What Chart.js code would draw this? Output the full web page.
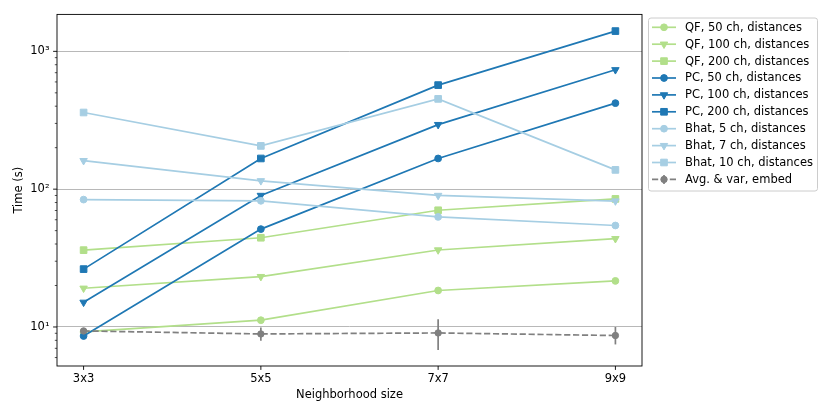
<!DOCTYPE html>
<html>
<head>
<meta charset="utf-8">
<script src="https://cdn.jsdelivr.net/npm/chart.js@4.4.0/dist/chart.umd.min.js"></script>
<style>
  html, body { margin: 0; padding: 0; background: #fff; }
  #wrap { width: 830px; height: 415px; position: relative; }
</style>
</head>
<body>
<div id="wrap"><canvas id="timeChart"></canvas></div>
<script>
// neighborhood sizes on the x axis
const categories = ['3x3', '5x5', '7x7', '9x9'];

// time in seconds
const qf50 = [9.2, 11.2, 18.4, 21.6];
const qf100 = [19.1, 23.2, 36.2, 43.7];
const qf200 = [36.1, 44.4, 70.3, 85];
const pc50 = [8.6, 51.3, 167, 421];
const pc100 = [15.1, 90, 294, 735];
const pc200 = [26.3, 167, 569, 1403];
const bhat5 = [84, 82.3, 62.9, 54.5];
const bhat7 = [161, 115, 90, 82];
const bhat10 = [360, 206, 452, 138];
const avgEmbed = [9.36, 8.9, 9.05, 8.67];
const avgLow = [9.1, 7.93, 6.8, 7.47];
const avgHigh = [9.6, 9.9, 11.36, 10.0];

const yMajorTicks = [10, 100, 1000];
const yTickLabels = ['10¹', '10²', '10³'];

const lightGreen = '#b2df8a';
const darkBlue = '#1f78b4';
const lightBlue = '#a6cee3';
const grey = '#808080';
const font = { family: 'DejaVu Sans', size: 11.5 };

const radius = { circle: 3.4, triangle: 4.3, rect: 4.7 };

const series = [
  { label: 'QF, 50 ch, distances', values: qf50, color: lightGreen, marker: 'circle' },
  { label: 'QF, 100 ch, distances', values: qf100, color: lightGreen, marker: 'triangle' },
  { label: 'QF, 200 ch, distances', values: qf200, color: lightGreen, marker: 'rect' },
  { label: 'PC, 50 ch, distances', values: pc50, color: darkBlue, marker: 'circle' },
  { label: 'PC, 100 ch, distances', values: pc100, color: darkBlue, marker: 'triangle' },
  { label: 'PC, 200 ch, distances', values: pc200, color: darkBlue, marker: 'rect' },
  { label: 'Bhat, 5 ch, distances', values: bhat5, color: lightBlue, marker: 'circle' },
  { label: 'Bhat, 7 ch, distances', values: bhat7, color: lightBlue, marker: 'triangle' },
  { label: 'Bhat, 10 ch, distances', values: bhat10, color: lightBlue, marker: 'rect' },
  { label: 'Avg. & var, embed', values: avgEmbed, color: grey, marker: 'circle', dash: [6.2, 2.7], r: 3.2 }
];
const avgIndex = series.length - 1;

const datasets = series.map((s, i) => ({
  label: s.label,
  data: s.values.map((v, j) => ({ x: j, y: v })),
  borderColor: s.color,
  backgroundColor: s.color,
  borderWidth: 1.7,
  borderDash: s.dash || [],
  pointStyle: s.marker,
  pointRadius: s.r || radius[s.marker],
  pointHoverRadius: s.r || radius[s.marker],
  pointRotation: s.marker === 'triangle' ? 180 : 0,
  pointBorderWidth: 1,
  tension: 0,
  order: series.length - i   // later series on top, like matplotlib
}));

// vertical variance bars under the grey markers
const errorBars = {
  id: 'errorBars',
  beforeDatasetDraw(chart, args) {
    if (args.index !== avgIndex) return;
    const { ctx, scales: { x, y } } = chart;
    ctx.save();
    ctx.strokeStyle = grey;
    ctx.lineWidth = 1.7;
    avgEmbed.forEach((v, j) => {
      const px = x.getPixelForValue(j);
      ctx.beginPath();
      ctx.moveTo(px, y.getPixelForValue(avgLow[j]));
      ctx.lineTo(px, y.getPixelForValue(avgHigh[j]));
      ctx.stroke();
    });
    ctx.restore();
  }
};

// spines and tick marks
const frame = {
  id: 'frame',
  afterDraw(chart) {
    const { ctx, chartArea: a, scales: { x, y } } = chart;
    ctx.save();
    ctx.strokeStyle = '#000';
    ctx.lineWidth = 0.9;
    ctx.strokeRect(a.left, a.top, a.right - a.left, a.bottom - a.top);
    ctx.beginPath();
    categories.forEach((c, j) => {
      const px = x.getPixelForValue(j);
      ctx.moveTo(px, a.bottom);
      ctx.lineTo(px, a.bottom + 3.9);
    });
    yMajorTicks.forEach(v => {
      const py = y.getPixelForValue(v);
      ctx.moveTo(a.left, py);
      ctx.lineTo(a.left - 3.9, py);
    });
    ctx.stroke();
    ctx.lineWidth = 0.67;
    ctx.beginPath();
    for (let d = 1; d <= 1000; d *= 10) {
      for (let k = 2; k <= 9; k++) {
        const v = k * d;
        if (v < y.min || v > y.max) continue;
        const py = y.getPixelForValue(v);
        ctx.moveTo(a.left, py);
        ctx.lineTo(a.left - 2.2, py);
      }
    }
    ctx.stroke();
    ctx.restore();
  }
};

// matplotlib style legend box, upper right outside the axes
const boxLegend = {
  id: 'boxLegend',
  afterDraw(chart) {
    const ctx = chart.ctx;
    const x0 = 648.5, y0 = 18, w = 169, h = 173, rr = 2.5;
    ctx.save();
    ctx.beginPath();
    ctx.moveTo(x0 + rr, y0);
    ctx.arcTo(x0 + w, y0, x0 + w, y0 + h, rr);
    ctx.arcTo(x0 + w, y0 + h, x0, y0 + h, rr);
    ctx.arcTo(x0, y0 + h, x0, y0, rr);
    ctx.arcTo(x0, y0, x0 + w, y0, rr);
    ctx.closePath();
    ctx.fillStyle = 'rgba(255,255,255,0.8)';
    ctx.fill();
    ctx.strokeStyle = '#cccccc';
    ctx.lineWidth = 1;
    ctx.stroke();

    series.forEach((s, i) => {
      const ly = 27.3 + i * 16.9;
      ctx.strokeStyle = s.color;
      ctx.fillStyle = s.color;
      ctx.lineWidth = 1.7;
      ctx.setLineDash(s.dash || []);
      ctx.beginPath();
      ctx.moveTo(652, ly);
      ctx.lineTo(676, ly);
      ctx.stroke();
      ctx.setLineDash([]);
      if (i === avgIndex) {
        ctx.beginPath();
        ctx.moveTo(664, ly - 4.5);
        ctx.lineTo(664, ly + 4.5);
        ctx.stroke();
      }
      ctx.lineWidth = 1;
      Chart.helpers.drawPoint(ctx, {
        pointStyle: s.marker,
        radius: s.r || radius[s.marker],
        rotation: s.marker === 'triangle' ? 180 : 0,
        borderWidth: 1
      }, 664, ly);
      ctx.fillStyle = '#000';
      ctx.font = '11.5px "DejaVu Sans"';
      ctx.textBaseline = 'middle';
      ctx.textAlign = 'left';
      ctx.fillText(s.label, 685, ly + 0.5);
    });
    ctx.restore();
  }
};

const ctx = document.getElementById('timeChart').getContext('2d');
const timeChart = new Chart(ctx, {
  type: 'line',
  data: { datasets: datasets },
  options: {
    responsive: true,
    maintainAspectRatio: false,
    animation: false,
    events: [],
    layout: { padding: { left: 0, right: 188, top: 12, bottom: 0 } },
    plugins: {
      legend: { display: false },
      tooltip: { enabled: false }
    },
    scales: {
      x: {
        type: 'linear',
        min: -0.15,
        max: 3.15,
        afterBuildTicks: scale => { scale.ticks = categories.map((c, j) => ({ value: j })); },
        afterFit: scale => { scale.height = 49; },
        ticks: {
          callback: v => categories[v],
          font: font,
          color: '#000',
          padding: 6.4,
          maxRotation: 0,
          autoSkip: false
        },
        grid: { display: false, drawTicks: false },
        border: { display: false },
        title: {
          display: true,
          text: 'Neighborhood size',
          font: font,
          color: '#000',
          padding: { top: 0, bottom: 13.1 }
        }
      },
      y: {
        type: 'logarithmic',
        min: 5.21,
        max: 1854,
        afterBuildTicks: scale => { scale.ticks = yMajorTicks.map(v => ({ value: v })); },
        afterFit: scale => { scale.width = 57; },
        ticks: {
          callback: v => yTickLabels[yMajorTicks.indexOf(v)],
          font: font,
          color: '#000',
          padding: 7.5,
          autoSkip: false
        },
        grid: { color: '#b0b0b0', lineWidth: 0.9, drawTicks: false },
        border: { display: false },
        title: {
          display: true,
          text: 'Time (s)',
          font: font,
          color: '#000',
          padding: { top: 12.1, bottom: 0 }
        }
      }
    }
  },
  plugins: [errorBars, frame, boxLegend]
});
</script>
</body>
</html>
